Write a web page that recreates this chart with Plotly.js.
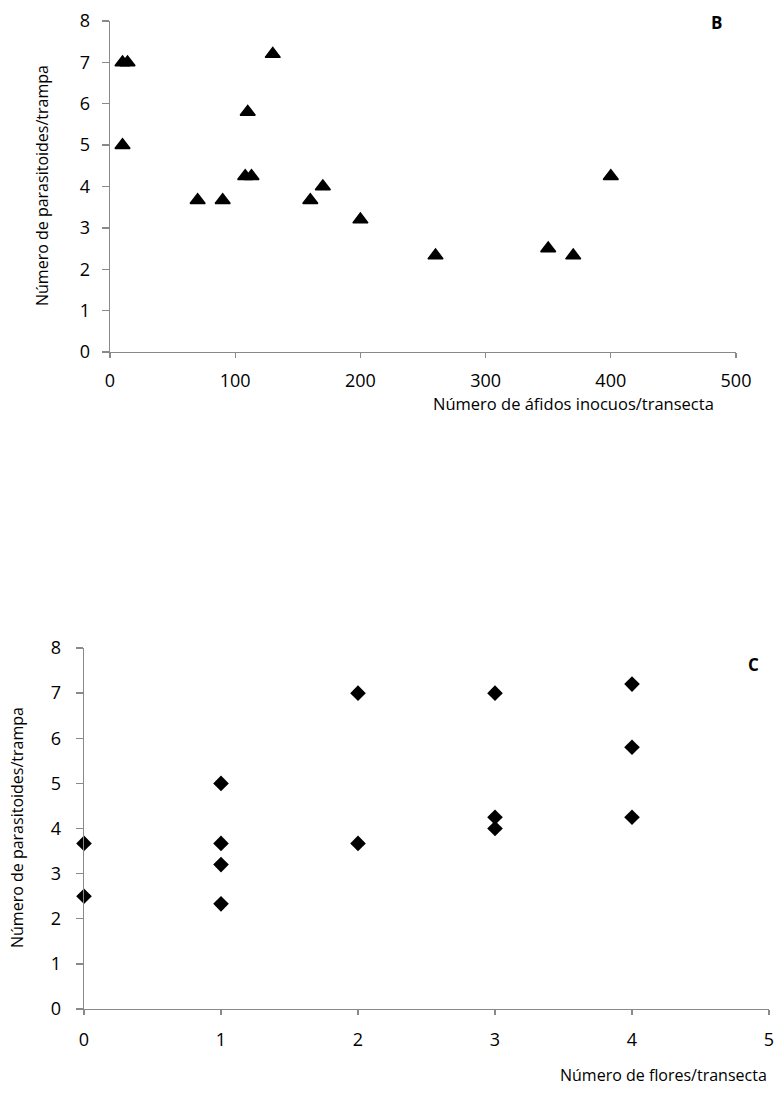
<!DOCTYPE html>
<html>
<head>
<meta charset="utf-8">
<script src="https://cdn.plot.ly/plotly-3.0.1.min.js"></script>
<style>html,body{margin:0;padding:0;background:#fff;}#chart{width:777px;height:1093px;}</style>
</head>
<body>
<div id="chart"></div>
<script>
// Panel B: aphids vs parasitoids
const aphidsB = [10, 14, 10, 110, 130, 108, 113, 170, 70, 90, 160, 200, 260, 350, 370, 400];
const parasitoidsB = [7.0, 7.0, 5.0, 5.8, 7.2, 4.25, 4.25, 4.0, 3.67, 3.67, 3.67, 3.2, 2.33, 2.5, 2.33, 4.25];
// Panel C: flowers vs parasitoids
const flowersC = [0, 0, 1, 1, 1, 1, 2, 2, 3, 3, 3, 4, 4, 4];
const parasitoidsC = [3.67, 2.5, 5.0, 3.67, 3.2, 2.33, 7.0, 3.67, 7.0, 4.25, 4.0, 7.2, 5.8, 4.25];

const ticksB = [0, 100, 200, 300, 400, 500];
const ticksC = [0, 1, 2, 3, 4, 5];
const ticksY = [0, 1, 2, 3, 4, 5, 6, 7, 8];

const xTitleB = 'Número de áfidos inocuos/transecta';
const xTitleC = 'Número de flores/transecta';
const yTitle = 'Número de parasitoides/trampa';

const FONT = 'Open Sans, Noto Sans, sans-serif';
const W = 777, H = 1093;
const px = v => v / W, py = v => 1 - v / H;

function axis(extra) {
  return Object.assign({
    showline: true, linecolor: '#898989', linewidth: 1.3,
    ticks: 'outside', ticklen: 5, tickcolor: '#898989', tickwidth: 1.3,
    showgrid: false, zeroline: false, tickmode: 'array',
    ticklabeloverflow: 'allow',
    tickfont: {family: FONT, size: 18, color: '#000'}
  }, extra);
}

const traces = [
  {x: aphidsB, y: parasitoidsB, type: 'scatter', mode: 'markers', xaxis: 'x', yaxis: 'y',
   cliponaxis: false, marker: {symbol: 'triangle-up', size: 13, color: '#000', line: {color: '#000', width: 1.5}}, hoverinfo: 'x+y'},
  {x: flowersC, y: parasitoidsC, type: 'scatter', mode: 'markers', xaxis: 'x2', yaxis: 'y2',
   cliponaxis: false, marker: {symbol: 'diamond', size: 12, color: '#000'}, hoverinfo: 'x+y'}
];

function note(text, x, y, opts) {
  return Object.assign({text: text, xref: 'paper', yref: 'paper', x: px(x), y: py(y),
    xanchor: 'center', yanchor: 'middle', showarrow: false,
    font: {size: 16, family: FONT, color: '#000'}}, opts || {});
}

const layout = {
  width: W, height: H, showlegend: false,
  paper_bgcolor: '#fff', plot_bgcolor: '#fff',
  margin: {l: 0, r: 0, t: 0, b: 0},
  font: {family: FONT, color: '#000'},
  xaxis: axis({domain: [px(110), px(736)], range: [0, 500], tickvals: ticksB, anchor: 'y', ticklabelstandoff: 7}),
  yaxis: axis({domain: [py(352), py(21)], range: [0, 8], tickvals: ticksY, anchor: 'x', ticklen: 7, ticklabelstandoff: 8}),
  xaxis2: axis({domain: [px(84), px(769)], range: [0, 5], tickvals: ticksC, anchor: 'y2', ticklabelstandoff: 9}),
  yaxis2: axis({domain: [py(1009), py(648)], range: [0, 8], tickvals: ticksY, anchor: 'x2', ticklen: 7, ticklabelstandoff: 11}),
  annotations: [
    note('<b>B</b>', 716, 23, {font: {size: 17, family: FONT, color: '#000'}}),
    note('<b>C</b>', 753, 664, {font: {size: 17, family: FONT, color: '#000'}}),
    note(xTitleB, 573, 403, {font: {size: 16.5, family: FONT, color: '#000'}}),
    note(yTitle, 42, 186, {textangle: -90}),
    note(xTitleC, 769, 1075, {xanchor: 'right'}),
    note(yTitle, 17, 828, {textangle: -90})
  ]
};

Plotly.newPlot('chart', traces, layout, {displayModeBar: false, staticPlot: true});
</script>
</body>
</html>
